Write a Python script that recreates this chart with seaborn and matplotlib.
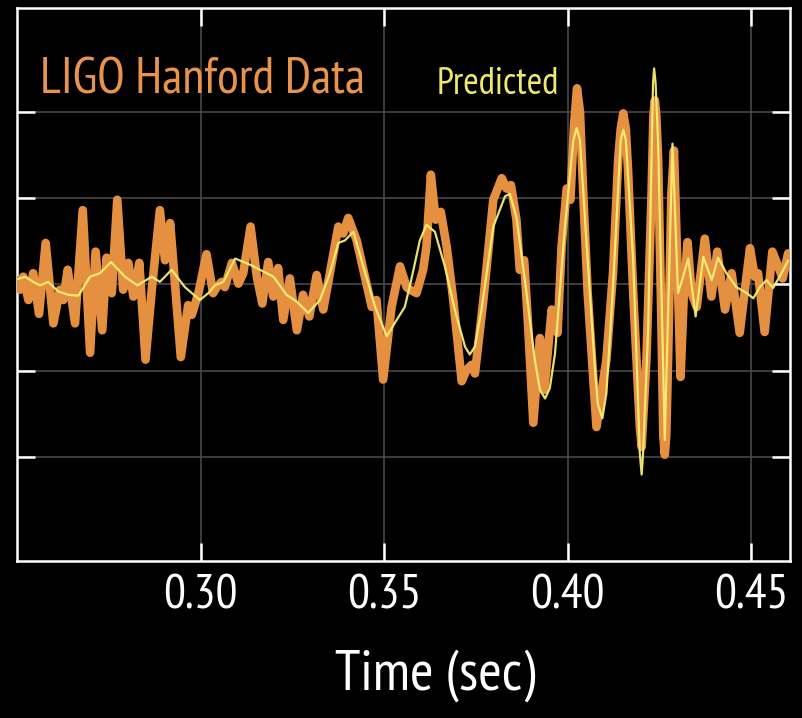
import numpy as np
import pandas as pd
import matplotlib
matplotlib.use("Agg")
import matplotlib.pyplot as plt
from matplotlib import font_manager
import seaborn as sns

# ── data (time in s, strain in arbitrary units) ──
data_t = [0.2500, 0.2508, 0.2517, 0.2531, 0.2544, 0.2560, 0.2578, 0.2599, 0.2617, 0.2626,
          0.2638, 0.2658, 0.2679, 0.2699, 0.2714, 0.2732, 0.2744, 0.2758, 0.2773, 0.2789,
          0.2803, 0.2817, 0.2833, 0.2850, 0.2867, 0.2889, 0.2903, 0.2917, 0.2946, 0.2966,
          0.2976, 0.2994, 0.3016, 0.3034, 0.3044, 0.3057, 0.3066, 0.3085, 0.3103, 0.3116,
          0.3136, 0.3153, 0.3168, 0.3184, 0.3198, 0.3211, 0.3225, 0.3243, 0.3262, 0.3279,
          0.3296, 0.3316, 0.3334, 0.3357, 0.3375, 0.3388, 0.3402, 0.3425, 0.3443, 0.3466,
          0.3479, 0.3497, 0.3520, 0.3543, 0.3561, 0.3570, 0.3588, 0.3606, 0.3615, 0.3627,
          0.3640, 0.3654, 0.3670, 0.3688, 0.3711, 0.3724, 0.3738, 0.3747, 0.3770, 0.3797,
          0.3820, 0.3833, 0.3845, 0.3860, 0.3869, 0.3881, 0.3892, 0.3906, 0.3924, 0.3936,
          0.3956, 0.3972, 0.3983, 0.3997, 0.4007, 0.4017, 0.4025, 0.4033, 0.4042, 0.4054, 0.4078, 0.4105,
          0.4123, 0.4137, 0.4144, 0.4151, 0.4158, 0.4164, 0.4178, 0.4196, 0.4201, 0.4214, 0.4228, 0.4233, 0.4237,
          0.4241, 0.4246, 0.4255, 0.4260, 0.4264, 0.4268, 0.4273, 0.4282, 0.4289, 0.4298, 0.4307, 0.4316, 0.4326,
          0.4337, 0.4351, 0.4373, 0.4391, 0.4407, 0.4428, 0.4446, 0.4468, 0.4496, 0.4509,
          0.4518, 0.4536, 0.4557, 0.4573, 0.4585, 0.4600]
data_h = [0.05, -0.06, 0.09, -0.18, 0.13, -0.34, 0.48, -0.45, -0.06, -0.18,
          0.17, -0.45, 0.86, -0.79, 0.38, -0.53, 0.31, -0.10, 0.98, -0.06,
          0.25, -0.14, 0.25, -0.87, -0.06, 0.86, 0.28, 0.71, -0.84, -0.24,
          -0.35, -0.10, 0.35, -0.10, -0.03, 0.03, -0.03, 0.25, 0.01, 0.13,
          0.67, 0.09, -0.22, 0.26, -0.14, 0.19, -0.41, 0.07, -0.53, -0.12,
          -0.37, 0.11, -0.29, 0.25, 0.67, 0.59, 0.77, 0.51, 0.17, -0.26,
          -0.18, -1.10, -0.26, 0.21, -0.03, -0.06, -0.10, 0.17, 0.44, 1.27,
          0.75, 0.84, 0.44, -0.18, -1.12, -0.99, -0.93, -1.03, -0.18, 0.98,
          1.23, 1.11, 1.15, 0.75, 0.17, 0.28, -0.49, -1.60, -0.62, -1.22,
          -0.29, -0.56, 0.44, 1.11, 0.98, 1.85, 2.27, 2.00, 1.05, -0.10, -1.65, -0.87,
          0.13, 1.44, 1.80, 1.98, 1.80, 1.32, -0.10, -1.64, -1.88, -0.87, 1.05, 1.95, 2.13,
          1.95, 1.44, -0.49, -1.75, -1.97, -1.75, -0.87, 1.05, 1.55, 0.28, -1.07, -0.10, 0.49,
          -0.10, -0.26, 0.53, -0.14, 0.38, -0.29, 0.13, -0.56, 0.42, 0.09,
          0.13, -0.55, 0.38, 0.21, 0.07, 0.36]

pred_t = [0.2500, 0.2522, 0.2544, 0.2563, 0.2585, 0.2612, 0.2640, 0.2667, 0.2699, 0.2726,
          0.2756, 0.2794, 0.2828, 0.2867, 0.2889, 0.2921, 0.2957, 0.2998, 0.3021, 0.3039,
          0.3062, 0.3094, 0.3134, 0.3171, 0.3198, 0.3234, 0.3262, 0.3293, 0.3325, 0.3352,
          0.3375, 0.3393, 0.3416, 0.3443, 0.3475, 0.3507, 0.3534, 0.3556, 0.3575, 0.3597,
          0.3615, 0.3638, 0.3665, 0.3692, 0.3720, 0.3733, 0.3747, 0.3765, 0.3797, 0.3829, 0.3842, 0.3860,
          0.3883, 0.3910, 0.3924, 0.3938, 0.3951, 0.3965, 0.3992, 0.4015, 0.4024, 0.4033, 0.4051, 0.4074,
          0.4082, 0.4094, 0.4105,
          0.4123, 0.4144, 0.4151, 0.4158, 0.4178, 0.4196, 0.4201, 0.4205, 0.4219, 0.4232, 0.4235, 0.4239,
          0.4246, 0.4264, 0.4285, 0.4300,
          0.4314, 0.4328, 0.4348, 0.4369, 0.4392, 0.4409, 0.4432, 0.4459, 0.4487, 0.4505,
          0.4523, 0.4541, 0.4559, 0.4582, 0.4600]
pred_h = [0.06, 0.09, 0.03, -0.01, 0.03, -0.08, -0.12, -0.13, 0.09, 0.13,
          0.26, 0.09, -0.01, 0.09, 0.03, 0.17, -0.03, -0.18, -0.10, -0.01,
          0.03, 0.30, 0.23, 0.15, 0.09, -0.12, -0.20, -0.33, -0.18, 0.13,
          0.48, 0.51, 0.61, 0.21, -0.26, -0.60, -0.41, -0.26, 0.08, 0.51,
          0.69, 0.61, 0.21, -0.29, -0.72, -0.81, -0.72, -0.29, 0.67, 1.02, 1.05, 0.78,
          0.05, -0.87, -1.22, -1.32, -1.20, -0.80, 0.67, 1.67, 1.81, 1.67, 0.48, -0.99,
          -1.39, -1.55, -1.26,
          -0.03, 1.67, 1.79, 1.67, 0.28, -1.95, -2.20, -1.95, -0.49, 2.33, 2.50, 2.33,
          1.63, -1.80, 1.63, -0.10,
          0.09, 0.30, -0.37, 0.32, 0.05, 0.31, 0.13, -0.03, -0.10, -0.16,
          -0.03, 0.05, -0.04, 0.13, 0.28]

x_ticks = [0.30, 0.35, 0.40, 0.45]
x_labels = ["0.30", "0.35", "0.40", "0.45"]
y_ticks = [-2, -1, 0, 1, 2]

# ── style ────────────────────────────────────────────────────
sns.set_style("dark", {"axes.facecolor": "black", "figure.facecolor": "black"})
names = {f.name for f in font_manager.fontManager.ttflist}
font = next((f for f in ["PT Sans Narrow", "Open Sans Condensed", "Roboto Condensed"]
             if f in names), "Liberation Sans")
plt.rcParams["font.family"] = [font, "DejaVu Sans"]

fig = plt.figure(figsize=(8.03, 7.18), dpi=100)
ax = fig.add_axes([0.0212, 0.2187, 0.9626, 0.7702])

df_data = pd.DataFrame({"t": data_t, "h": data_h})
df_pred = pd.DataFrame({"t": pred_t, "h": pred_h})

# measured strain: thick orange
sns.lineplot(data=df_data, x="t", y="h", ax=ax, color="#E58F40", lw=6.2,
             sort=False, estimator=None, solid_joinstyle="round",
             solid_capstyle="round", zorder=3)
# predicted waveform: thin yellow on top
sns.lineplot(data=df_pred, x="t", y="h", ax=ax, color="#F4EF74", lw=1.6,
             sort=False, estimator=None, alpha=0.95, zorder=4)

ax.set_xlim(0.25, 0.4605)
ax.set_ylim(-3.2, 3.2)
ax.set_xticks(x_ticks)
ax.set_xticklabels(x_labels)
ax.set_yticks(y_ticks)
ax.set_yticklabels([])
ax.grid(True, color="#4d4d4d", lw=1.1)
ax.tick_params(axis="both", which="both", direction="in", length=13, width=1.8,
               color="white", top=True, right=True, bottom=True, left=True)
ax.tick_params(axis="x", labelsize=35, labelcolor="white", pad=10)
for s in ax.spines.values():
    s.set_visible(True)
    s.set_color("white")
    s.set_linewidth(1.8)

ax.set_xlabel("Time (sec)", fontsize=41, color="white")
ax.set_ylabel("")
ax.xaxis.set_label_coords(0.541, -0.16)

ax.text(0.03, 0.846, "LIGO Hanford Data", transform=ax.transAxes,
        fontsize=36, color="#E8944A", ha="left", va="baseline")
ax.text(0.543, 0.844, "Predicted", transform=ax.transAxes,
        fontsize=27, color="#EEE96C", ha="left", va="baseline")

fig.savefig("out.png", dpi=100, facecolor="black")
